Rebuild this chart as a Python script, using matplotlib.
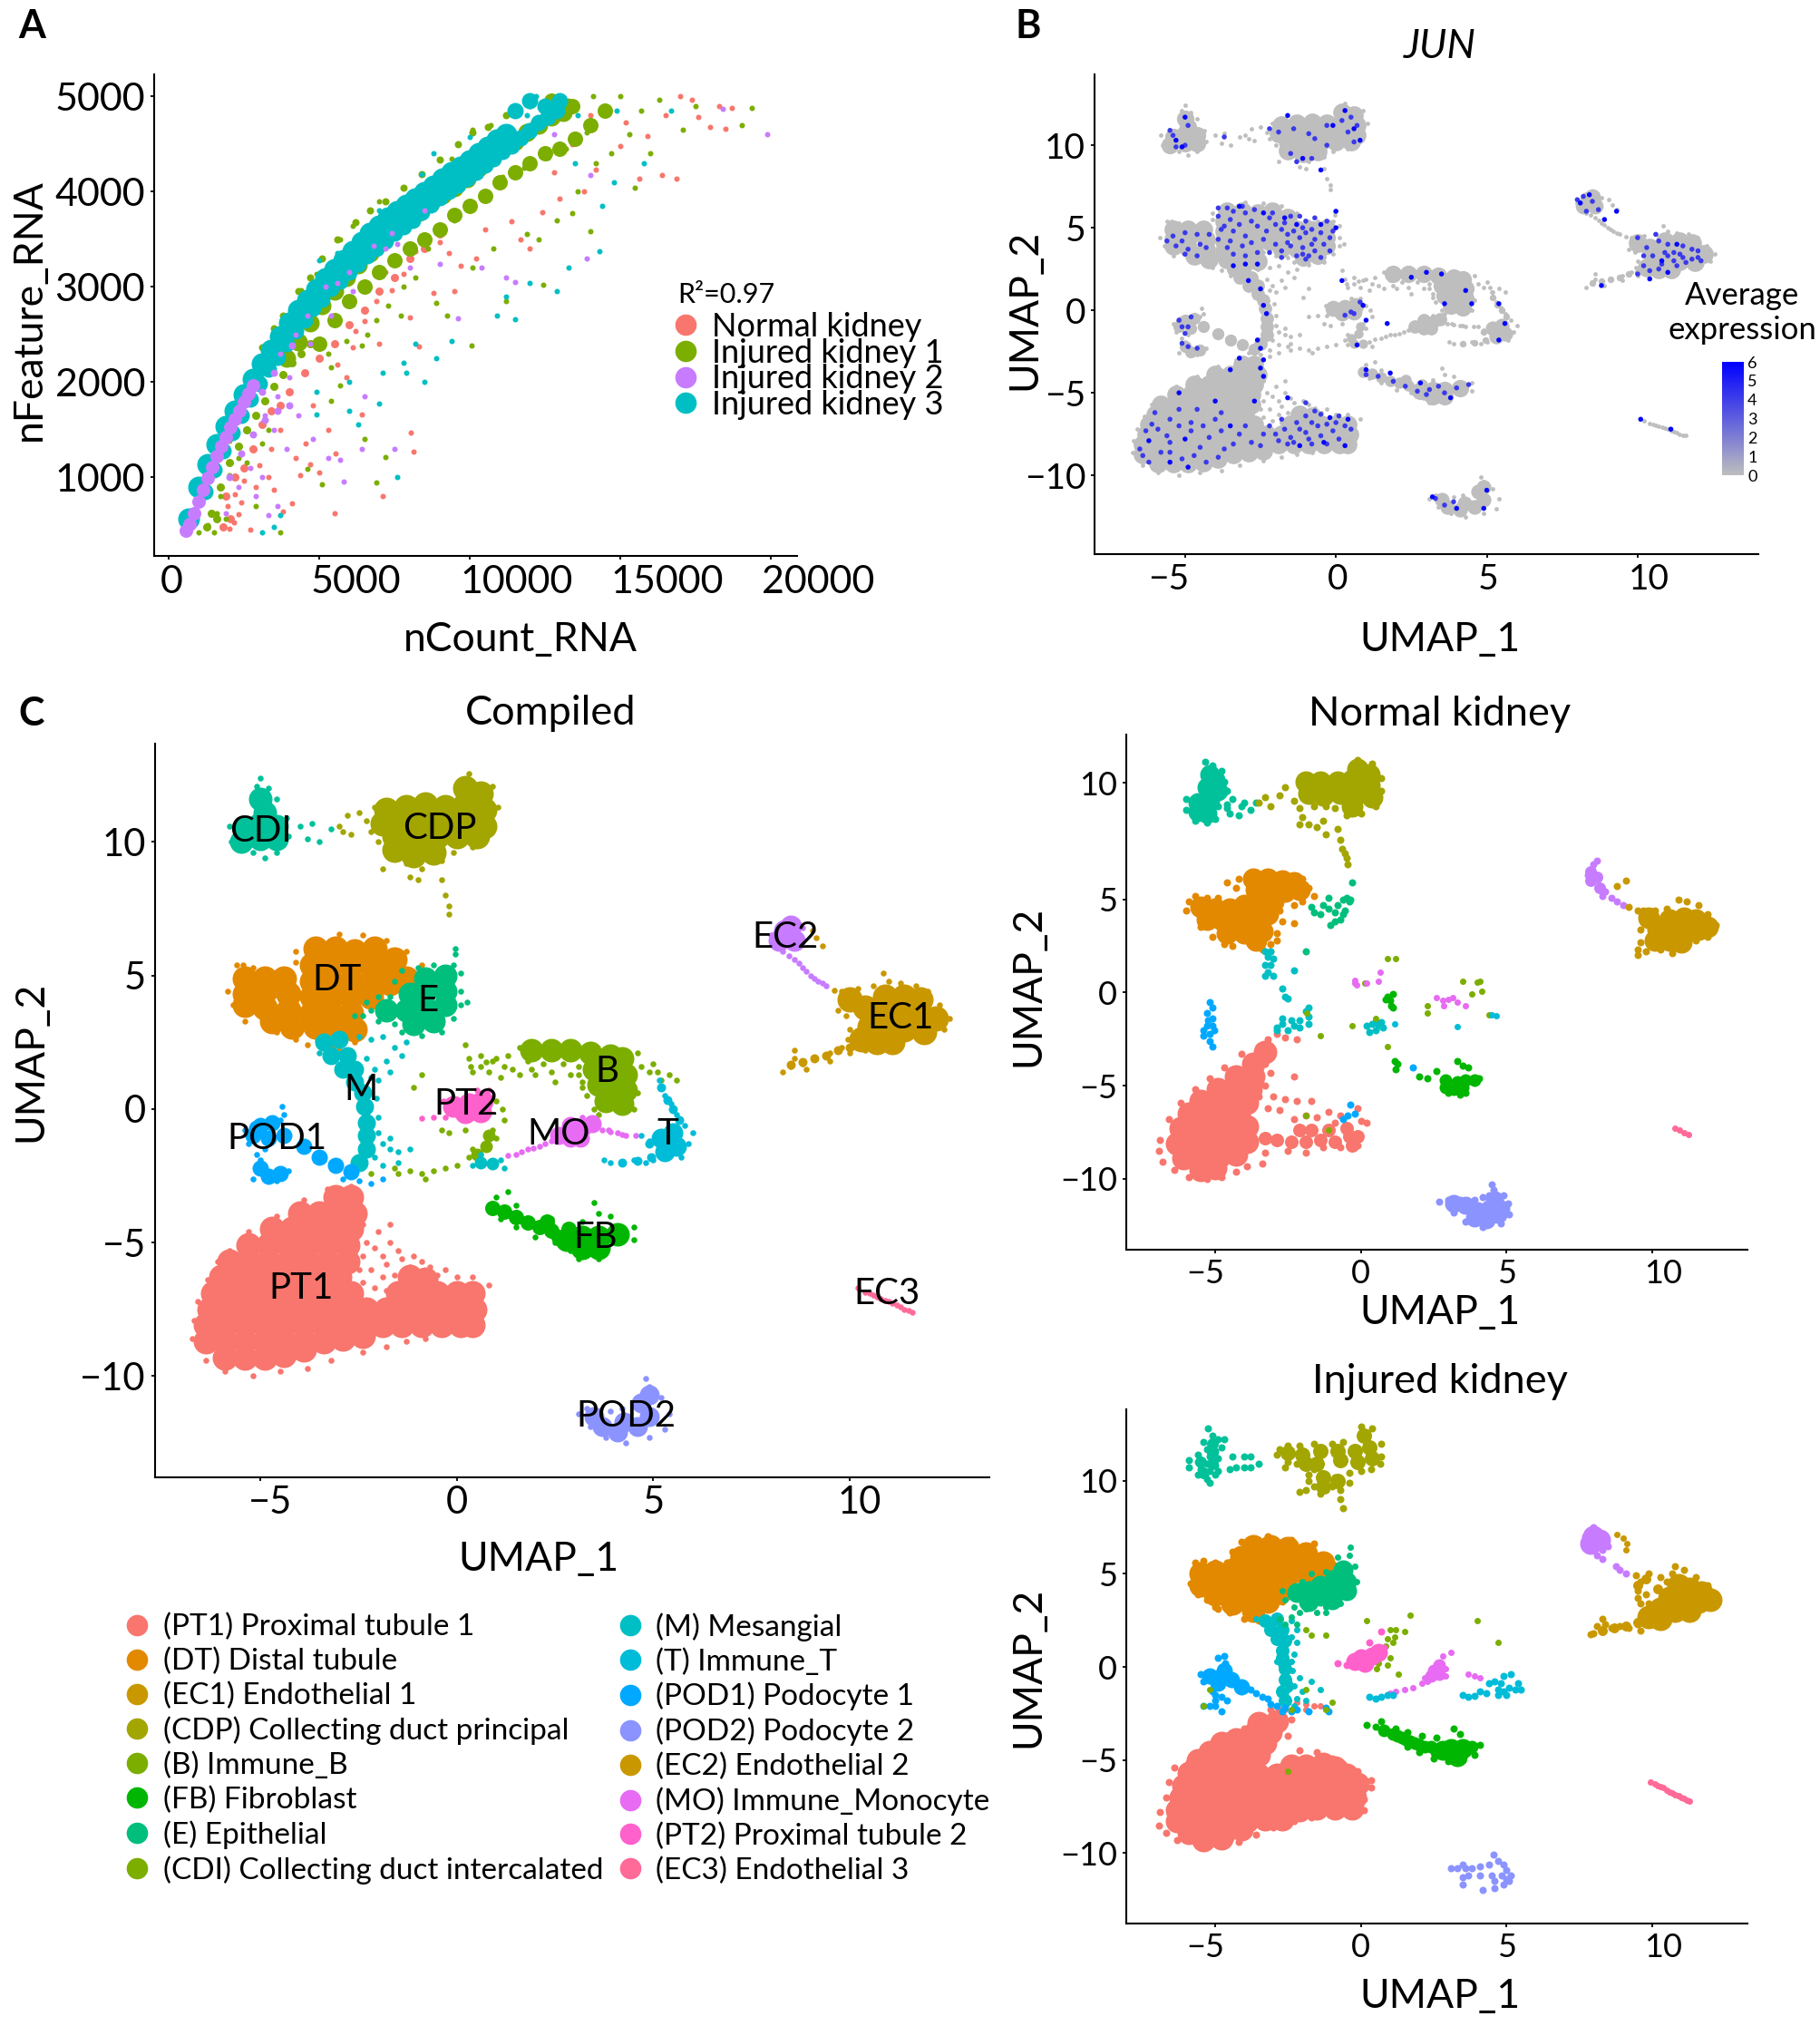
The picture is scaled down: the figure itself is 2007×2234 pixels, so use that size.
import matplotlib
matplotlib.use('Agg')
import matplotlib.pyplot as plt
from matplotlib.colors import LinearSegmentedColormap
from matplotlib.lines import Line2D
from matplotlib.transforms import Affine2D, ScaledTranslation
import numpy as np

plt.rcParams['font.family'] = ['Lato', 'DejaVu Sans']
plt.rcParams['axes.unicode_minus'] = True

W, H = 2007, 2234

# Panel A: nCount_RNA / nFeature_RNA
A_TEAL_CORE = [(650,560),(1000,900),(1300,1130),(1600,1340),(1900,1530),(2200,1700),(2500,1870),(2800,2030),(3100,2190),(3400,2330),(3700,2480),(4000,2620),(4300,2750),(4600,2860),(4900,2970),(5200,3090),(5500,3180),(5800,3280),(6100,3370),(6400,3470),(6700,3560),(7000,3640),(7300,3720),(7600,3790),(7900,3860),(8200,3920),(8500,3990),(8800,4060),(9100,4130),(9400,4200),(9700,4260),(10000,4320),(10300,4400),(10600,4470),(10900,4540),(11200,4600)]
A_TEAL_LOW = [(1200,850),(1500,1080),(1800,1280),(2100,1470),(2400,1650),(2700,1820),(3000,1980),(3300,2130),(3600,2260),(3900,2400),(4200,2530),(4500,2650),(4800,2770),(5100,2870),(5400,2980),(5700,3060),(6000,3150),(6300,3240),(6600,3320),(6900,3400),(7200,3480),(7500,3560),(7800,3630),(8100,3700),(8400,3780),(8700,3860),(9000,3930),(9300,4000),(9600,4070),(9900,4130),(10200,4200),(10500,4280),(10800,4340),(11100,4420),(11400,4480),(11700,4560),(12000,4640),(12300,4720),(12600,4780),(12900,4850),(11500,4850),(12000,4950),(12500,4900),(13000,4950)]
A_GREEN_CORE = [(3900,2250),(4300,2420),(4700,2620),(5100,2800),(5500,2950),(5900,3100),(6300,3230),(6700,3350),(7100,3480),(7500,3600),(7900,3700),(8300,3780),(8700,3880),(9100,3960),(9500,4040),(9900,4130),(10300,4250),(10700,4350),(11100,4450),(11500,4520),(11900,4620),(12300,4700),(12700,4780),(13100,4830)]
A_GREEN_LOW = [(5000,2400),(5500,2650),(6000,2850),(6500,3000),(7000,3150),(7500,3280),(8000,3400),(8500,3500),(9000,3600),(9500,3750),(10000,3850),(10500,3950),(11000,4100),(11500,4200),(12000,4300),(12500,4400),(13000,4450),(13500,4550),(14000,4700),(14500,4850),(13400,4900),(12700,4950)]
A_GREEN_EDGE = [(2100,1720),(2600,2050),(3100,2360),(3500,2560),(3800,2700),(4300,2950),(4700,3100),(5100,3300),(5600,3500),(6200,3680),(6700,3800),(7200,3900),(7800,4040),(8400,4180),(9000,4330),(9600,4500),(10100,4620),(10600,4680),(11200,4800)]
A_MIX_GREEN = [(1400,620),(1700,900),(2000,1150),(2300,1320),(2600,1500),(2900,1650),(3200,1800),(3500,1950),(3800,2080),(4100,2200),(4400,2300),(4700,2400),(1250,480),(1600,560)]
A_MIX_RED = [(1900,800),(2200,1000),(2500,1100),(2800,1300),(3100,1550),(3400,1700),(3700,1750),(4000,1900),(4500,2100),(5000,2250),(5500,2400),(6000,2600),(6500,2750),(7000,2950),(7500,3100),(8000,3300),(8500,3400),(9000,3550),(2050,560),(1800,480)]
A_MIX_PURPLE = [(2000,1000),(2400,1250),(2800,1450),(3200,1600),(3600,1700),(4000,1750),(3100,1900),(3500,2100),(4100,2380)]
A_PURPLE_CORE = [(560,440),(700,510),(850,620),(1000,740),(1150,870),(1300,990),(1450,1110),(1600,1220),(1750,1320),(1900,1420),(2050,1520),(2200,1610),(2350,1700),(2500,1790),(2650,1880),(2800,1960)]
A_RED = [(2000,460),(2150,520),(2300,610),(1950,700),(2200,820),(2400,730),(2700,450),(2500,960),(2900,900),(3000,1120),(3300,1000),(3500,870),(3800,640),(4100,720),(4350,1020),(4550,1350),(4700,1130),(5000,1050),(5500,620),(5300,1500),(5550,1250),(6400,1660),(8040,1466),(8135,1266),(7115,800),(5900,2050),(6100,2360),(6500,2640),(6900,2850),(7400,2960),(7800,3130),(8000,2680),(8300,2370),(8800,2930),(9300,3350),(9000,3470),(9700,3220),(10500,3600),(11400,3690),(12000,3400),(12400,3780),(13000,3920),(13800,4000),(14200,4230),(15000,4480),(15200,4720),(15900,4580),(16400,4170),(15640,4130),(16890,4130),(16500,4800),(17000,5000),(17400,4960),(17600,4780),(18000,4680),(18300,4900),(18700,4880),(18500,4660),(14000,4800),(13400,4500),(12800,4200),(11700,3500),(10200,3300),(9500,2950),(7000,2400),(4200,1200),(3400,1300),(3700,1500),(4800,1750),(5600,2180),(6200,2530),(7200,3150),(8200,3370)]
A_GREEN = [(1000,420),(1300,500),(1500,420),(1600,620),(1700,800),(1900,560),(2000,1020),(2300,1200),(2600,1150),(2900,700),(3100,1350),(3300,1500),(3700,420),(4600,1090),(5100,920),(6900,940),(7200,1210),(6500,1400),(5400,1800),(5700,1960),(5400,2150),(5900,2430),(6400,2380),(6900,2650),(7700,2700),(7800,3000),(8200,3100),(8900,2830),(10050,2380),(9250,2700),(10100,3200),(11200,2850),(12450,3020),(10800,3400),(11900,3550),(12300,3500),(12900,3700),(13400,3770),(14000,3580),(13600,4000),(14200,4300),(15500,4040),(14700,4400),(15300,4600),(16000,4400),(15700,4850),(16300,4960),(17100,4650),(17500,4900),(19060,4700),(19380,4880),(12000,4900),(10700,4700),(10100,4650),(9400,4340),(8600,4060),(7200,3680),(7000,3900),(6100,3640),(5700,3500),(4900,3130),(4400,2960),(3900,2580),(3500,2400),(3000,2000),(2400,1650),(2000,1380),(5000,2450),(5300,2300),(6000,2800),(6600,2500),(7300,2800),(8600,3400),(9500,3700),(10400,3950),(11100,4150),(11800,4250),(12600,4350),(13200,4450),(13900,4620),(14400,4850),(15000,5000),(14100,5000),(13300,4950)]
A_PURPLE = [(1900,620),(2300,900),(2700,1100),(2900,800),(3100,1000),(3300,600),(3600,700),(3500,1500),(3900,1300),(4300,1650),(4800,1400),(5300,1200),(5800,950),(5700,1180),(6400,1300),(6500,1850),(7500,1300),(9600,2670),(11500,3050),(11200,3100),(10400,3200),(9000,3240),(8000,3200),(7200,3400),(6100,2950),(5400,2700),(4700,2400),(4000,2050),(3600,1850),(3200,1650),(13900,3300),(14000,4170),(12800,4600),(18400,4870),(19900,4600),(8500,3800),(7600,3450),(4600,2700),(5200,3000),(5600,3040),(6000,3150),(6800,3430),(7400,3560),(3700,2300),(4200,2500)]
A_TEAL = [(3100,420),(3500,480),(3700,600),(6000,2000),(6000,1700),(4900,1900),(4900,1660),(6300,1550),(7000,1770),(7600,1000),(7100,2100),(7800,2200),(8200,2400),(7900,2100),(8500,2000),(9400,2430),(8900,2250),(10900,2700),(11200,2900),(11500,2660),(12000,3040),(12900,2950),(13300,3200),(14300,3370),(14400,3850),(15800,4300),(16700,4850),(14900,4850),(13600,4800),(12200,5000),(11900,4800),(11200,4620),(10000,4570),(8800,4400),(8400,4180),(7000,3800),(6000,3350),(5600,3350),(5000,3280),(13500,4300),(14800,4100)]

# Compiled UMAP, clusters as dense (_L, _M) and single cell (_S) readings
C_PT1_L = [(-3.1,-3.3),(-2.7,-3.3),(-4.0,-3.9),(-3.5,-3.9),(-3.0,-3.9),(-2.6,-3.9),(-4.7,-4.5),(-4.2,-4.5),(-3.7,-4.5),(-3.2,-4.5),(-2.7,-4.5),(-5.3,-5.1),(-4.8,-5.1),(-4.3,-5.1),(-3.8,-5.1),(-3.3,-5.1),(-2.8,-5.1),(-5.8,-5.7),(-5.3,-5.7),(-4.8,-5.7),(-4.3,-5.7),(-3.8,-5.7),(-3.3,-5.7),(-2.8,-5.7),(-6.0,-6.3),(-5.5,-6.3),(-5.0,-6.3),(-4.5,-6.3),(-4.0,-6.3),(-3.5,-6.3),(-3.0,-6.3),(-1.2,-6.3),(-0.8,-6.4),(-6.2,-6.9),(-5.7,-6.9),(-5.2,-6.9),(-4.7,-6.9),(-4.2,-6.9),(-3.7,-6.9),(-3.2,-6.9),(-2.7,-6.9),(-1.5,-6.9),(-1.0,-6.9),(-0.5,-6.9),(0.0,-6.9),(0.4,-6.9),(-6.3,-7.5),(-5.8,-7.5),(-5.3,-7.5),(-4.8,-7.5),(-4.3,-7.5),(-3.8,-7.5),(-3.3,-7.5),(-2.8,-7.5),(-2.3,-7.5),(-1.8,-7.5),(-1.3,-7.5),(-0.8,-7.5),(-0.3,-7.5),(0.2,-7.5),(0.45,-7.5),(-6.4,-8.1),(-5.9,-8.1),(-5.4,-8.1),(-4.9,-8.1),(-4.4,-8.1),(-3.9,-8.1),(-3.4,-8.1),(-2.9,-8.1),(-2.4,-8.1),(-1.9,-8.1),(-1.4,-8.1),(-0.9,-8.1),(-0.4,-8.1),(0.1,-8.1),(0.4,-8.1),(-6.4,-8.7),(-5.9,-8.7),(-5.4,-8.7),(-4.9,-8.7),(-4.4,-8.7),(-3.9,-8.7),(-3.4,-8.7),(-2.9,-8.6),(-2.4,-8.5),(-5.9,-9.3),(-5.4,-9.3),(-4.9,-9.3),(-4.4,-9.2),(-3.9,-9.0)]
C_PT1_S = [(-6.75,-8.6),(-6.7,-7.9),(-6.6,-7.2),(-6.35,-6.4),(-6.1,-5.7),(-5.8,-5.3),(-5.3,-4.6),(-4.6,-4.0),(-3.9,-3.4),(-3.3,-3.0),(-2.7,-2.9),(-2.5,-3.4),(-2.4,-4.3),(-2.3,-5.0),(-2.0,-4.6),(-1.9,-5.5),(-2.2,-6.0),(-1.9,-6.3),(-1.6,-6.2),(-1.4,-5.6),(-1.1,-5.5),(-0.7,-5.9),(0.0,-6.3),(0.4,-6.3),(0.8,-6.6),(0.5,-8.3),(-0.8,-8.6),(-1.3,-8.7),(-1.8,-8.9),(-2.4,-9.1),(-3.2,-9.4),(-3.8,-9.7),(-4.5,-9.8),(-5.2,-10.0),(-5.9,-9.8),(-6.4,-9.4),(-1.7,-4.3),(-2.4,-5.5),(-2.1,-5.2),(-1.7,-5.0),(-2.4,-6.5),(-2.1,-6.7),(-1.8,-5.8),(-1.5,-5.3),(-1.2,-5.9),(-0.9,-5.7),(-0.5,-6.2),(-0.3,-6.0),(0.3,-6.6),(-2.5,-6.0),(-1.8,-6.8)]
C_DT_L = [(-3.6,6.0),(-3.1,6.0),(-2.6,5.9),(-2.1,6.0),(-1.6,5.6),(-3.7,5.4),(-3.2,5.4),(-2.7,5.4),(-2.2,5.4),(-1.7,5.2),(-1.3,4.9),(-5.4,4.9),(-4.9,4.4),(-5.4,4.3),(-5.4,3.9),(-4.9,3.8),(-4.4,4.9),(-4.3,4.3),(-4.3,3.7),(-3.7,4.8),(-3.2,4.8),(-2.7,4.8),(-2.2,4.8),(-1.7,4.7),(-3.7,4.2),(-3.2,4.2),(-2.7,4.2),(-2.2,4.2),(-4.7,3.3),(-4.2,3.1),(-3.7,3.6),(-3.2,3.6),(-2.7,3.6),(-3.6,3.1),(-3.1,3.1),(-2.6,3.0),(-3.3,2.6),(-4.9,4.9)]
C_DT_S = [(-5.85,4.4),(-5.6,5.4),(-5.45,5.4),(-5.2,5.3),(-4.85,5.0),(-4.1,5.9),(-4.1,5.5),(-3.0,6.55),(-2.4,6.5),(-1.8,6.3),(-1.3,5.9),(-0.9,5.4),(-5.7,3.9),(-5.4,3.3),(-4.6,2.9),(-4.1,2.6),(-3.8,2.4),(-3.0,2.2),(-2.6,2.5)]
C_E_L = [(-0.3,5.0),(-0.8,4.9),(-0.3,4.4),(-0.8,4.4),(-1.2,4.3),(-0.3,3.9),(-0.8,3.8),(-1.3,3.7),(-1.8,3.7),(-0.6,3.3),(-1.1,3.2)]
C_E_S = [(-0.1,5.4),(-0.6,5.4),(-1.0,5.3),(-1.4,5.2),(-1.6,4.8),(0.1,5.1),(0.1,4.4),(0.1,3.9),(-0.1,3.4),(-0.4,2.9),(-0.9,2.75),(-1.4,2.9),(-1.6,3.2),(-2.2,3.7),(-2.4,3.5),(-2.6,3.5),(-2.0,3.3),(-1.7,4.2),(0.25,4.0),(-0.05,6.0),(-0.05,5.8),(-2.3,4.0),(-2.0,4.2)]
C_M_M = [(-3.4,2.5),(-3.0,2.6),(-3.2,2.0),(-2.8,2.0),(-2.9,1.5),(-2.6,1.5),(-2.6,1.0),(-2.4,0.6),(-2.35,0.1),(-2.3,-0.5),(-2.3,-1.0),(-2.3,-1.5),(-2.5,-2.0)]
C_M_S = [(-1.3,2.5),(-1.6,2.3),(-1.8,1.8),(-2.1,1.5),(-2.0,1.1),(-2.5,2.7),(-2.2,2.6),(-1.9,2.7),(-3.5,2.1),(-2.0,-0.3),(-2.0,-0.9),(-1.9,-1.3),(-1.7,-1.5),(-1.5,-1.6),(-1.2,-1.5),(-1.5,-2.0),(-1.9,-2.1),(-2.1,-1.8),(-1.7,-1.1),(-2.05,0.4),(-1.4,2.0),(-1.7,1.4),(-2.3,1.9),(-2.2,1.2)]
C_POD1_M = [(-5.0,-0.6),(-4.7,-0.5),(-5.2,-1.0),(-4.8,-1.1),(-4.4,-1.0),(-5.0,-2.2),(-4.8,-2.5),(-4.5,-2.4),(-5.1,-0.7),(-3.9,-1.4),(-3.5,-1.8),(-3.1,-2.1),(-2.7,-2.35)]
C_POD1_S = [(-4.45,0.1),(-4.4,-0.2),(-4.5,-0.4),(-5.4,-0.8),(-5.3,-1.3),(-5.1,-1.7),(-5.0,-1.9),(-4.9,-1.5),(-5.2,-2.6),(-4.6,-2.7),(-4.3,-2.3),(-4.0,-1.3),(-3.8,-1.5),(-3.6,-1.7),(-3.4,-1.9),(-3.2,-2.0),(-3.0,-2.1),(-2.8,-2.2),(-2.6,-2.3),(-2.9,-2.6),(-2.5,-2.7),(-2.2,-2.8),(-1.9,-2.6),(-2.7,-2.4)]
C_B_L = [(1.9,2.2),(2.4,2.2),(2.9,2.2),(3.4,2.1),(3.9,2.0),(4.2,1.9),(3.5,1.5),(3.9,1.4),(4.3,1.3),(3.6,0.9),(4.0,0.9),(4.3,0.7),(3.8,0.3),(4.2,0.2)]
C_B_S = [(1.6,2.3),(1.8,1.8),(2.2,1.7),(2.7,1.7),(3.1,1.6),(1.3,2.0),(1.2,1.6),(0.9,1.8),(0.6,2.0),(0.3,1.9),(0.4,1.4),(0.2,2.4),(0.8,1.4),(1.1,1.2),(1.6,1.3),(2.0,1.3),(2.5,1.0),(3.2,1.0),(3.3,0.5),(3.5,0.0),(3.6,-0.2),(4.6,2.1),(4.7,1.6),(4.9,1.4),(4.6,0.6),(4.5,0.0),(5.0,1.7),(5.2,1.1),(5.4,1.3),(5.6,1.1),(-0.9,1.3),(-1.1,0.8),(1.0,0.3),(1.15,0.0),(-0.4,-0.8),(-0.2,-0.9),(0.2,-0.8),(0.6,1.6),(1.0,1.9),(1.4,1.5),(1.9,1.5),(2.4,1.4),(2.9,1.3),(3.1,1.3),(3.2,0.8),(5.1,1.4),(0.35,1.6),(0.75,1.75)]
C_OLIVE_M = [(0.8,-1.0),(0.75,-1.4),(0.5,-1.7)]
C_OLIVE_S = [(0.9,-0.8),(1.0,-1.1),(0.4,-1.5),(0.3,-1.8),(0.0,-2.1),(-0.3,-2.2),(-0.6,-2.3),(-0.9,-2.4),(-1.2,-2.3),(-1.5,-2.4),(-0.8,-2.6),(-1.6,-2.2),(-2.2,-2.4),(1.2,-0.4)]
C_PT2_L = [(-0.1,0.1),(0.3,0.2),(0.65,0.3),(0.2,-0.15),(0.6,-0.1)]
C_PT2_S = [(-0.3,-0.3),(-0.6,-0.3),(-0.9,-0.35),(-0.35,0.3),(0.8,0.7),(0.5,0.7)]
C_FB_L = [(3.2,-4.8),(3.6,-4.8),(4.1,-4.7),(3.2,-5.2),(3.6,-5.2),(2.8,-4.9)]
C_FB_M = [(0.9,-3.7),(1.2,-3.85),(1.5,-4.05),(1.8,-4.25),(2.1,-4.4),(2.4,-4.55),(2.6,-4.8),(2.85,-4.5),(2.3,-4.2)]
C_FB_S = [(0.85,-3.6),(1.1,-4.1),(1.5,-4.4),(2.0,-4.8),(2.5,-5.0),(2.9,-5.3),(3.1,-5.6),(3.6,-5.6),(3.5,-3.5),(3.6,-3.9),(3.9,-4.0),(4.5,-4.4),(4.5,-4.9),(3.2,-4.2),(2.4,-4.1),(1.5,-3.6),(1.0,-3.3),(1.3,-3.1)]
C_MO_M = [(2.9,-0.6),(3.2,-0.7),(2.9,-1.1),(3.15,-1.1),(2.6,-1.0),(3.45,-0.55)]
C_MO_S = [(2.5,-0.9),(2.4,-1.2),(2.1,-1.4),(1.8,-1.5),(1.5,-1.7),(1.3,-1.75),(3.2,-0.3),(3.45,-0.5),(3.7,-0.8),(3.9,-0.85),(4.1,-0.9),(4.3,-1.0),(4.55,-1.0),(2.25,-1.3),(1.95,-1.45),(1.65,-1.6),(3.85,-0.8),(4.2,-0.95)]
C_T_L = [(5.5,-0.9),(5.2,-1.1),(5.6,-1.4),(5.3,-1.6)]
C_T_M = [(5.2,0.8),(5.35,0.35),(5.5,0.0),(5.65,-0.4),(4.9,-1.3),(4.6,-1.95),(4.2,-2.0),(4.95,-1.8)]
C_T_S = [(5.15,1.1),(5.2,0.8),(5.3,0.5),(5.45,0.2),(5.6,-0.2),(5.8,-0.6),(6.0,-0.9),(5.9,-1.3),(5.7,-1.8),(4.9,-1.2),(4.7,-1.0),(5.0,-1.9),(4.8,-2.0),(4.5,-1.9),(4.2,-2.0),(3.9,-2.0),(3.75,-1.9)]
C_TM_M = [(0.6,-2.0),(0.9,-2.05)]
C_TM_S = [(0.4,-2.1),(1.1,-1.9),(1.2,-2.2),(0.6,-1.7)]
C_POD2_L = [(4.7,-11.0),(4.9,-11.5),(4.6,-11.9),(4.1,-12.1),(3.7,-11.9),(4.9,-10.7),(4.25,-11.7),(3.5,-11.5)]
C_POD2_S = [(4.8,-10.1),(4.9,-10.4),(5.2,-10.8),(5.4,-11.4),(5.3,-12.0),(4.9,-12.3),(4.3,-12.5),(3.8,-12.3),(3.4,-11.9),(3.1,-11.4),(3.3,-11.2),(3.6,-11.3),(3.9,-11.3),(4.2,-11.2)]
C_EC2_L = [(8.35,6.7),(8.2,6.3),(8.6,6.3),(8.5,6.85)]
C_EC2_S = [(8.0,6.5),(8.3,5.9),(8.6,5.6),(8.8,5.3),(9.0,5.0),(9.2,4.8),(9.4,4.6),(8.8,6.8),(8.45,5.75),(8.7,5.45),(8.9,5.15),(9.1,4.9),(9.3,4.7)]
C_EC2B_S = [(9.05,6.7),(9.15,6.4),(9.3,6.1),(9.6,4.45)]
C_EC1_L = [(10.9,4.2),(11.4,4.2),(11.8,4.1),(10.4,3.8),(10.8,3.6),(11.3,3.5),(11.8,3.5),(12.2,3.4),(10.5,3.1),(10.9,3.0),(11.4,3.0),(11.9,2.9),(10.0,4.1),(10.3,2.6),(10.7,2.5),(11.1,2.5)]
C_EC1_M = [(8.5,1.65),(8.8,1.75),(9.1,1.9),(9.4,2.0),(9.7,2.2),(10.0,2.3)]
C_EC1_S = [(9.8,4.4),(10.2,4.5),(10.6,4.6),(10.85,5.1),(11.0,4.8),(11.3,4.7),(11.7,4.6),(12.0,4.4),(12.3,3.9),(12.55,3.4),(12.4,3.0),(9.7,3.7),(9.9,3.5),(10.0,3.0),(9.95,2.6),(9.8,2.3),(9.5,2.1),(9.1,1.9),(8.8,1.7),(8.5,1.6),(8.3,1.4),(8.6,1.9),(8.6,2.2),(9.5,1.8),(10.0,2.1),(10.4,2.2),(8.9,1.5)]
C_EC3_S = [(10.2,-6.7),(10.4,-6.85),(10.6,-6.95),(10.8,-7.1),(11.0,-7.2),(11.2,-7.35),(11.4,-7.5),(11.6,-7.6),(10.5,-6.9),(10.9,-7.15),(11.3,-7.42),(10.7,-7.03),(11.1,-7.28),(11.5,-7.55)]
C_CDI_L = [(-5.0,11.6),(-4.9,11.1),(-5.0,10.7),(-5.4,10.5),(-4.6,10.6),(-5.5,10.0),(-5.0,10.1),(-4.6,10.1)]
C_CDI_S = [(-5.0,12.4),(-5.1,12.1),(-4.8,12.0),(-4.6,11.6),(-4.35,10.9),(-5.8,10.6),(-5.75,10.0),(-4.3,10.2),(-4.0,10.6),(-3.7,10.7),(-3.5,10.0),(-3.8,10.1),(-3.2,10.5),(-4.9,9.4),(-5.2,9.6),(-4.6,9.6)]
C_CDP_L = [(0.2,12.0),(0.6,11.8),(0.2,11.4),(0.7,11.2),(-0.3,11.3),(-0.8,11.4),(-1.3,11.3),(-1.8,11.2),(0.2,10.8),(0.7,10.6),(-0.3,10.8),(-0.8,10.7),(-1.3,10.7),(-1.9,10.7),(0.5,10.2),(0.0,10.2),(-0.5,10.2),(-1.1,10.1),(-1.6,10.2),(-0.6,9.6),(-1.1,9.5),(-1.6,9.7)]
C_CDP_S = [(-2.8,11.0),(-2.5,11.1),(-2.3,10.8),(-2.1,11.3),(-2.2,10.4),(-2.0,10.0),(-1.7,9.4),(-1.9,9.0),(-1.3,9.2),(-1.2,8.7),(-1.0,8.6),(-0.9,9.0),(-0.4,9.3),(-0.1,9.6),(0.4,9.8),(-0.4,8.6),(-0.3,8.0),(-0.2,7.6),(-0.2,7.3),(1.05,11.3),(0.9,12.1),(0.3,12.55),(-2.9,10.4),(-2.7,10.3),(-3.0,10.6)]

# Cells with JUN signal in panel B
JUN_HIGH = [(-5.0,11.7),(-5.3,10.3),(-5.1,9.9),(-1.6,11.8),(-0.1,11.2),(0.3,12.1),(0.6,11.0),(0.8,10.3),(-1.1,9.2),(-0.5,8.5),(0.0,6.0),(-3.2,6.3),(-2.4,5.9),(-1.7,5.6),(-1.3,5.2),(-0.5,5.2),(0.0,5.0),(-3.4,2.7),(-3.0,2.8),(-2.6,2.8),(-2.9,1.8),(-2.5,1.3),(-2.4,0.3),(-2.3,-0.2),(-2.6,-1.8),(-2.5,-2.3),(-2.4,-3.0),(-2.5,-3.5),(-2.4,-4.0),(-3.5,-3.6),(-3.2,-2.9),(-5.2,-5.0),(-4.0,-5.5),(-2.7,-5.5),(-1.6,-5.3),(-0.2,-6.5),(0.4,-6.6),(0.3,-8.2),(-0.4,-8.0),(-5.5,-9.2),(-4.9,-9.5),(-6.2,-7.9),(-5.0,-7.8),(-3.5,-7.0),(-1.2,-8.2),(0.2,1.8),(0.9,0.3),(1.0,-0.6),(0.7,-2.1),(2.5,2.0),(3.0,2.3),(3.5,2.2),(4.3,1.2),(3.6,0.4),(4.5,0.4),(5.4,0.4),(5.6,-0.8),(5.4,-1.8),(1.7,-0.8),(1.0,-3.6),(1.8,-3.8),(2.8,-4.4),(3.8,-5.3),(8.4,7.0),(8.1,6.5),(8.9,5.5),(9.3,6.0),(8.8,1.5),(10.4,1.9),(10.8,3.0),(11.0,2.3),(11.3,4.0),(10.1,-6.6),(11.1,-7.2),(3.2,-11.3),(4.0,-12.0),(5.0,-10.9),(4.9,-12.0)]
JUN_MID = [(-5.5,10.9),(-5.4,10.6),(-5.0,10.0),(-5.3,9.9),(-4.9,11.2),(-3.7,10.5),(-2.2,11.0),(-1.4,11.0),(-1.9,10.8),(-0.9,10.7),(-0.7,10.4),(-0.3,11.2),(0.2,11.5),(0.5,11.7),(0.7,11.2),(0.4,10.8),(0.6,10.2),(-0.3,10.0),(-1.5,9.5),(-1.3,9.0),(-0.8,9.2),(-3.9,6.2),(-3.4,6.0),(-3.9,5.7),(-3.5,5.5),(-3.0,5.9),(-2.8,5.4),(-2.2,5.6),(-2.0,5.2),(-1.5,5.7),(-1.0,5.4),(-0.8,4.9),(-0.5,4.7),(-0.1,4.8),(-1.8,4.9),(-1.4,4.8),(-1.2,4.4),(-0.7,4.3),(-0.4,4.0),(-1.1,3.8),(-0.7,3.6),(-1.3,3.3),(-1.0,3.1),(-0.5,3.2),(-5.4,4.5),(-5.0,4.7),(-4.6,4.6),(-5.3,3.9),(-4.9,3.7),(-4.5,4.0),(-4.2,4.6),(-3.8,4.9),(-3.4,4.8),(-3.0,4.5),(-3.5,4.2),(-3.1,3.9),(-2.8,4.1),(-2.4,4.3),(-2.0,4.0),(-2.2,3.5),(-1.8,3.6),(-3.4,3.4),(-1.6,4.1),(-5.2,-0.6),(-5.1,-1.0),(-4.9,-1.0),(-5.0,-1.4),(-4.8,-0.4),(-5.1,-2.0),(-4.9,-2.2),(-4.6,-2.3),(-0.5,-6.3),(0.0,-6.8),(0.3,-7.0),(-0.6,-7.0),(-1.0,-6.4),(-1.3,-6.8),(-1.7,-7.2),(-1.5,-7.7),(-1.0,-7.4),(-0.5,-7.6),(-0.1,-7.3),(-1.9,-7.9),(-1.4,-8.0),(-0.8,-8.1),(-2.4,-7.5),(-2.8,-8.0),(-3.2,-7.5),(-3.8,-7.3),(-4.4,-7.0),(-4.8,-6.8),(-5.5,-6.6),(-5.9,-7.2),(-6.0,-6.2),(-5.5,-8.0),(-4.5,-8.3),(-3.7,-8.4),(-6.4,-8.8),(-6.2,-9.2),(-5.8,-8.6),(-4.3,-9.2),(0.3,-0.3),(0.6,-0.2),(0.8,0.5),(0.5,-0.1),(1.0,-3.9),(1.4,-4.0),(1.9,-4.3),(2.3,-4.6),(2.7,-4.9),(3.1,-4.8),(3.4,-4.6),(3.6,-5.0),(4.0,-4.7),(4.4,-4.5),(3.0,-5.1),(8.0,6.7),(8.2,6.9),(8.5,6.6),(8.7,6.1),(8.3,6.0),(10.0,4.4),(10.3,3.8),(10.7,4.2),(11.0,4.0),(10.5,3.3),(10.9,3.5),(11.2,3.5),(11.5,3.2),(11.8,3.7),(11.5,3.9),(12.0,3.2),(10.2,2.7),(10.7,2.5),(11.2,3.0),(11.6,2.9),(12.1,3.0),(10.0,2.2),(3.3,-11.4),(3.6,-11.8),(3.9,-11.6)]
JUN_MID2 = [(-3.6,6.2),(-3.1,6.3),(-2.7,6.1),(-2.1,5.9),(-1.2,5.7),(-0.7,5.6),(-1.7,5.3),(-1.1,5.0),(-0.3,5.4),(-3.7,5.1),(-3.2,5.2),(-2.6,5.1),(-2.3,4.8),(-1.6,4.6),(-1.0,4.7),(-0.2,4.4),(-1.5,3.9),(-1.8,3.2),(-1.1,3.4),(-0.2,3.6),(-0.8,4.0),(-0.9,3.3),(-5.6,4.2),(-5.1,4.2),(-5.0,3.4),(-4.6,3.3),(-4.3,3.8),(-3.9,4.3),(-3.6,3.8),(-2.6,3.5),(-3.0,3.3),(-1.0,-5.6),(-0.7,-6.1),(-0.3,-6.9),(0.1,-6.4),(0.5,-7.2),(-0.8,-6.8),(-1.2,-7.2),(-1.8,-6.6),(-2.2,-7.0),(-2.0,-7.5),(-1.6,-8.1),(-0.9,-7.8),(-0.3,-8.1),(0.1,-7.8),(-2.5,-8.2),(-3.0,-7.0),(-3.4,-8.1),(-4.0,-6.6),(-4.2,-7.7),(-4.8,-7.3),(-5.2,-7.0),(-5.6,-7.6),(-6.1,-6.9),(-6.3,-7.3),(-6.5,-8.4),(-5.5,-8.6),(-5.1,-9.0),(-4.7,-8.8),(-3.9,-8.9),(-5.2,-6.0),(-4.6,-6.0),(-3.8,-6.2),(10.6,4.6),(11.0,3.3),(11.4,3.4),(11.8,3.1),(10.8,2.8),(10.4,2.4),(11.3,2.7),(10.2,3.3),(12.0,3.6)]

# Normal kidney UMAP
N_PT1_L = [(-3.3,-3.2),(-3.7,-3.8),(-4.3,-4.5),(-3.7,-4.5),(-4.9,-5.2),(-4.3,-5.2),(-3.8,-5.2),(-5.5,-5.8),(-5.0,-5.8),(-4.4,-5.8),(-3.9,-5.9),(-5.9,-6.5),(-5.4,-6.5),(-4.8,-6.5),(-4.2,-6.5),(-6.2,-7.3),(-5.6,-7.3),(-5.0,-7.3),(-4.4,-7.3),(-3.9,-7.2),(-6.3,-8.1),(-5.7,-8.1),(-5.1,-8.1),(-4.5,-8.1),(-3.9,-8.0),(-6.1,-8.9),(-5.5,-8.9),(-4.9,-8.9),(-4.3,-8.7),(-5.5,-9.5),(-5.0,-9.4)]
N_PT1_M = [(-3.3,-7.8),(-2.9,-7.9),(-2.4,-8.0),(-1.9,-8.0),(-1.4,-7.9),(-0.9,-8.0),(-0.4,-7.7),(-0.1,-7.7),(-0.3,-8.2),(-1.1,-7.4),(-1.7,-7.4),(-0.5,-7.3),(-2.1,-7.4)]
N_PT1_S = [(-6.95,-8.5),(-6.9,-7.9),(-6.6,-6.8),(-6.2,-5.9),(-5.7,-5.2),(-5.2,-4.6),(-4.7,-4.0),(-4.1,-3.3),(-3.5,-2.9),(-3.2,-2.5),(-2.9,-2.2),(-2.6,-2.4),(-2.2,-2.5),(-3.3,-3.8),(-3.1,-4.3),(-3.3,-5.0),(-3.5,-5.6),(-2.3,-4.5),(-3.2,-6.2),(-3.0,-5.6),(-2.8,-6.3),(-2.6,-5.7),(-2.2,-5.8),(-1.7,-5.8),(-2.3,-6.8),(-1.9,-6.6),(-1.5,-6.7),(-1.1,-6.4),(-0.9,-7.0),(-0.7,-6.6),(-0.1,-6.2),(0.0,-6.9),(0.2,-7.0),(-0.1,-8.2),(-0.7,-8.3),(-1.3,-8.3),(-1.9,-8.6),(-2.5,-8.5),(-3.3,-8.6),(-3.4,-9.2),(-3.9,-9.3),(-4.3,-9.6),(-4.8,-9.9),(-5.3,-10.0),(-5.9,-9.9),(-6.4,-9.5),(-6.8,-9.1)]
N_DT_L = [(-3.7,6.1),(-3.2,6.1),(-2.7,6.0),(-2.3,5.9),(-3.6,5.5),(-3.1,5.5),(-2.6,5.4),(-2.1,5.5),(-5.5,4.6),(-5.0,4.5),(-4.5,4.5),(-4.0,4.7),(-3.5,4.9),(-3.0,4.9),(-5.3,3.9),(-4.8,3.9),(-4.2,3.9),(-3.7,4.1),(-3.2,4.2),(-4.6,3.2),(-4.0,3.2),(-3.4,3.3),(-3.6,2.8)]
N_DT_S = [(-4.6,5.9),(-4.2,6.1),(-4.3,5.6),(-6.0,4.4),(-5.9,4.9),(-5.7,5.2),(-5.3,5.1),(-4.9,5.1),(-5.5,3.5),(-5.1,3.0),(-4.7,2.6),(-4.4,2.5),(-3.4,2.3),(-3.1,2.2),(-2.9,3.2),(-2.7,3.8),(-2.8,4.4),(-2.3,4.7),(-2.0,4.9),(-1.8,5.6),(-1.6,5.2),(-2.0,6.1),(-2.9,2.8),(-3.1,2.6),(-2.3,3.7)]
N_E_S = [(-1.7,4.6),(-1.6,4.3),(-1.4,4.2),(-1.3,4.7),(-1.1,5.1),(-1.1,4.5),(-0.9,4.3),(-0.8,4.7),(-0.7,3.9),(-0.9,3.8),(-1.05,3.6),(-0.6,5.0),(-0.5,5.1),(-0.4,4.9),(-0.6,4.2),(-0.35,5.0),(-0.3,5.9),(-0.55,4.4),(-1.9,2.2)]
N_M_S = [(-3.3,2.2),(-3.1,2.2),(-3.2,1.9),(-3.0,1.8),(-3.1,1.5),(-3.3,1.5),(-3.2,1.1),(-3.3,0.9),(-3.0,0.9),(-2.7,0.2),(-2.6,-0.2),(-2.7,-1.4),(-2.4,-1.5),(-2.1,-1.5),(-1.8,-1.3),(-1.9,-1.0),(-1.8,-0.8),(-2.9,-2.0),(-2.7,-1.7),(-2.5,-2.0),(-2.3,-1.8),(-2.1,-1.9),(-1.8,-1.7),(-2.9,-1.9),(-2.5,-0.3),(-2.3,1.2),(0.2,-1.8),(0.4,-1.7),(0.5,-2.0),(0.6,-1.8),(0.7,-1.6),(0.3,-2.1),(0.5,-1.6),(0.75,-1.9)]
N_POD1_S = [(-5.2,-0.5),(-5.1,-0.8),(-5.3,-1.1),(-5.25,-1.5),(-5.1,-1.4),(-5.3,-1.8),(-5.1,-1.8),(-5.4,-2.3),(-5.2,-2.2),(-5.05,-2.0),(-5.2,-2.6),(-5.1,-2.9),(-5.4,-2.0),(-0.35,-6.0),(-0.45,-6.6),(-0.2,-6.5),(-0.6,-6.8),(1.8,-4.0)]
N_B_S = [(0.9,1.8),(1.2,1.8),(0.15,0.5),(4.1,0.6),(4.0,0.55),(3.5,0.6),(3.8,-0.1),(4.15,0.05),(2.3,-0.7),(2.3,-1.1),(-0.3,-1.8),(0.5,-1.4),(-1.4,-2.3),(-1.85,-1.1),(-1.1,-7.4),(-1.9,-6.6),(4.4,-1.2),(0.9,-2.9)]
N_FB_M = [(2.9,-4.7),(3.3,-4.8),(3.6,-4.7),(3.2,-5.2),(3.5,-5.1),(2.9,-5.1),(3.9,-4.7)]
N_FB_S = [(0.9,-0.2),(0.85,-0.35),(1.0,-0.4),(1.1,-0.1),(1.05,-0.7),(1.1,-0.8),(1.15,-3.7),(1.25,-3.8),(1.2,-4.1),(2.0,-4.5),(2.3,-4.6),(3.3,-3.7),(3.5,-3.9),(3.7,-4.0),(2.6,-4.2),(4.05,-4.6),(3.0,-5.4),(3.4,-5.5),(3.6,-5.4)]
N_MO_S = [(-0.2,0.65),(-0.2,0.5),(-0.15,0.4),(0.2,0.5),(0.6,0.6),(0.65,1.1),(2.6,-0.25),(2.8,-0.4),(2.85,-0.7),(3.0,-0.35),(3.15,-0.25),(3.3,-0.5),(3.6,-0.7)]
N_T_S = [(4.5,-1.2),(4.65,-1.25),(3.3,-1.85),(1.15,-1.7)]
N_POD2_L = [(3.6,-11.4),(4.0,-11.7),(4.4,-11.6),(4.8,-11.6),(3.9,-12.1),(4.3,-12.2),(4.6,-11.1),(4.7,-11.9),(3.2,-11.3)]
N_POD2_S = [(4.5,-10.3),(4.55,-10.6),(4.9,-10.9),(5.05,-11.3),(5.1,-11.9),(4.8,-12.4),(4.2,-12.6),(3.6,-12.3),(3.2,-11.8),(2.7,-11.2),(3.0,-11.1),(3.4,-11.1),(3.9,-11.1),(4.2,-11.0),(4.4,-10.9)]
N_EC2_M = [(7.9,6.5),(8.1,6.2),(7.9,6.0),(8.2,5.6)]
N_EC2_S = [(8.1,7.1),(8.0,6.9),(7.8,6.3),(8.4,5.4),(8.6,5.1),(8.8,4.9),(9.0,4.7),(8.3,5.2)]
N_EC1_L = [(10.6,3.9),(11.1,4.0),(11.5,3.9),(10.2,3.4),(10.7,3.4),(11.2,3.3),(11.6,3.4),(10.1,2.8),(10.6,2.8),(11.0,2.7),(9.9,4.0),(11.9,3.5)]
N_EC1_S = [(9.2,4.6),(9.5,4.4),(9.7,4.4),(10.1,4.4),(10.5,4.5),(10.9,5.0),(11.2,4.9),(11.6,4.7),(11.9,4.2),(12.2,3.6),(11.9,3.0),(11.5,2.8),(9.7,3.8),(9.6,3.4),(10.0,3.0),(9.6,2.7),(9.5,2.3),(9.5,2.0),(9.8,2.2),(10.3,2.3),(10.7,2.1),(9.1,6.0),(8.8,5.7)]
N_EC3_S = [(10.8,-7.3),(10.95,-7.4),(11.1,-7.5),(11.25,-7.6)]
N_CDI_L = [(-5.2,11.7),(-5.0,11.4),(-5.3,11.0),(-4.9,10.8),(-5.6,10.2),(-5.2,10.3),(-5.6,9.7),(-5.3,9.6)]
N_CDI_S = [(-5.35,12.4),(-5.1,12.2),(-4.8,11.9),(-4.7,11.3),(-4.6,10.8),(-6.0,10.4),(-6.0,9.8),(-5.7,9.2),(-5.3,9.1),(-5.0,9.3),(-4.9,10.0),(-4.6,9.9),(-4.4,10.4),(-4.6,10.1),(-4.5,9.6),(-4.1,10.0),(-4.0,10.2),(-4.2,9.5),(-3.8,9.8),(-3.6,10.2)]
N_CDP_L = [(-0.1,12.0),(0.3,11.7),(-0.3,11.4),(0.3,11.1),(-0.8,11.3),(-1.4,11.3),(-1.9,11.3),(-0.2,10.6),(0.4,10.5),(-0.7,10.7),(-1.3,10.6),(-1.8,10.7),(-0.3,10.0)]
N_CDP_S = [(-0.1,12.5),(0.4,12.3),(0.7,11.5),(0.7,10.8),(0.5,10.0),(0.0,9.6),(-0.5,9.5),(-0.9,9.9),(-1.2,10.0),(-1.6,10.0),(-2.1,9.9),(-2.3,10.3),(-2.6,11.0),(-2.8,10.6),(-3.3,10.5),(-3.5,10.2),(-3.1,10.0),(-2.0,9.4),(-1.8,9.0),(-1.5,8.9),(-1.2,8.5),(-1.3,9.2),(-0.8,8.8),(-0.7,8.2),(-0.65,7.7),(-0.5,7.2),(-0.45,6.9),(-0.55,7.45),(-2.1,9.0)]

# Injured kidney UMAP
I_PT1_L = [(-2.9,-2.9),(-3.5,-3.0),(-3.1,-3.5),(-3.7,-3.6),(-4.3,-3.9),(-4.8,-4.1),(-3.3,-4.1),(-4.0,-4.4),(-4.6,-4.6),(-5.2,-4.6),(-3.5,-4.7),(-5.6,-5.0),(-5.1,-5.2),(-4.5,-5.2),(-3.9,-5.2),(-2.4,-5.3),(-1.9,-5.3),(-1.3,-5.2),(-0.9,-5.4),(-5.9,-5.7),(-5.3,-5.8),(-4.7,-5.8),(-4.1,-5.8),(-3.5,-5.8),(-2.9,-5.8),(-2.3,-5.9),(-1.7,-5.9),(-1.1,-5.9),(-0.5,-5.8),(-6.1,-6.4),(-5.5,-6.4),(-4.9,-6.4),(-4.3,-6.4),(-3.7,-6.4),(-3.1,-6.4),(-2.5,-6.5),(-1.9,-6.5),(-1.3,-6.5),(-0.7,-6.4),(-0.1,-6.3),(-6.2,-7.0),(-5.6,-7.0),(-5.0,-7.0),(-4.4,-7.0),(-3.8,-7.0),(-3.2,-7.0),(-2.6,-7.1),(-2.0,-7.1),(-1.4,-7.1),(-0.8,-7.1),(-0.2,-7.0),(-6.3,-7.7),(-5.7,-7.7),(-5.1,-7.7),(-4.5,-7.7),(-3.9,-7.7),(-3.3,-7.7),(-2.7,-7.7),(-2.1,-7.7),(-1.5,-7.6),(-0.9,-7.6),(-0.3,-7.6),(-6.3,-8.3),(-5.7,-8.3),(-5.1,-8.3),(-4.5,-8.3),(-3.9,-8.3),(-3.3,-8.2),(-2.7,-8.2),(-5.9,-8.9),(-5.3,-8.9),(-4.7,-8.9),(-4.1,-8.7),(-5.4,-9.3),(-4.8,-9.2)]
I_PT1_S = [(-6.95,-8.5),(-6.9,-7.8),(-6.7,-7.0),(-6.6,-6.2),(-6.4,-5.4),(-5.9,-5.1),(-5.2,-4.3),(-4.6,-3.7),(-4.0,-3.3),(-3.6,-2.7),(-3.1,-2.3),(-2.8,-2.3),(-2.4,-2.8),(-2.5,-3.7),(-2.1,-4.5),(-1.5,-4.6),(-1.0,-4.9),(-0.6,-5.2),(-0.1,-5.6),(0.35,-6.1),(0.35,-6.5),(0.1,-7.1),(0.1,-7.7),(-0.9,-8.0),(-1.7,-8.1),(-2.3,-8.3),(-3.0,-8.6),(-3.6,-9.0),(-4.2,-9.4),(-4.8,-9.6),(-5.6,-9.6),(-6.3,-9.3),(-6.7,-8.9)]
I_PTB_S = [(-2.6,-2.0),(-2.2,-1.9),(-1.9,-2.0),(-1.6,-2.1),(-1.4,-2.1),(-2.3,-2.2),(-1.9,-2.3),(-2.6,-2.3)]
I_DT_L = [(-3.7,6.5),(-3.1,6.5),(-2.5,6.4),(-1.9,6.1),(-1.3,5.6),(-4.1,5.9),(-3.5,5.9),(-2.9,5.9),(-2.3,5.8),(-1.7,5.6),(-5.5,5.0),(-5.0,5.1),(-4.4,5.2),(-3.8,5.3),(-3.2,5.3),(-2.6,5.3),(-2.0,5.1),(-1.5,5.1),(-5.5,4.4),(-5.0,4.5),(-4.4,4.6),(-3.8,4.7),(-3.2,4.7),(-2.6,4.7),(-5.0,3.9),(-4.4,4.0),(-3.8,4.1),(-3.2,4.1),(-2.8,4.0),(-4.4,3.4),(-3.8,3.5),(-3.2,3.5),(-3.7,3.0)]
I_DT_S = [(-5.85,4.5),(-5.7,5.6),(-5.4,5.7),(-5.0,5.6),(-4.6,5.6),(-4.4,6.2),(-4.1,6.7),(-3.2,7.0),(-2.4,6.8),(-1.6,6.6),(-1.1,5.8),(-0.95,5.5),(-5.6,3.9),(-5.3,3.6),(-5.0,3.2),(-4.9,3.1),(-4.5,2.9),(-4.0,2.6),(-3.5,2.5),(-2.7,3.5)]
I_E_L = [(-0.6,5.2),(-0.9,4.7),(-0.5,4.6),(-1.4,4.4),(-1.0,4.2),(-0.5,4.1),(-1.8,4.1),(-2.2,4.0),(-1.4,3.8),(-1.0,3.6),(-1.8,3.5)]
I_E_S = [(-0.35,6.45),(-0.4,6.0),(-0.8,5.9),(-0.2,5.4),(-0.15,4.6),(-0.3,3.9),(-0.7,3.4),(-1.2,3.2),(-1.5,2.9),(-1.2,2.9),(-1.9,3.1),(-2.3,3.2),(-2.6,3.6),(-2.7,4.1),(-2.0,4.6),(-1.7,5.0),(-1.2,5.1),(-2.1,2.9),(-2.4,2.7),(-2.6,2.3),(-2.8,2.6),(-2.2,2.3)]
I_M_M = [(-3.3,2.5),(-2.9,2.6),(-3.1,2.0),(-2.7,2.0),(-2.9,1.5),(-2.6,1.4),(-2.7,0.9),(-2.7,0.5),(-2.6,-0.1),(-2.6,-0.7),(-2.7,-1.3),(-2.6,-1.8),(-2.55,-1.0),(-2.65,0.2)]
I_M_S = [(-3.6,2.6),(-2.4,2.5),(-2.2,2.0),(-2.4,1.6),(-2.2,1.3),(-2.3,0.7),(-2.4,0.3),(-2.9,0.3),(-2.35,-0.2),(-2.1,-0.6),(-2.3,-1.0),(-2.0,-1.3),(-2.2,-1.7),(-2.3,-2.1),(-1.9,-1.8),(-1.4,-1.2),(-1.7,-0.8)]
I_POD1_L = [(-5.2,-0.5),(-4.8,-0.5),(-4.7,-0.2),(-4.9,-0.9),(-4.45,-0.7),(-4.1,-1.05)]
I_POD1_S = [(-4.9,0.5),(-4.7,0.6),(-4.65,0.2),(-5.5,-0.4),(-5.4,-0.8),(-4.4,-0.6),(-4.2,-0.9),(-4.0,-1.1),(-3.8,-1.2),(-3.6,-1.4),(-5.1,-1.3),(-5.0,-1.5),(-5.0,-1.8),(-4.8,-1.6),(-5.2,-2.1),(-5.0,-2.1),(-5.4,-2.1),(-4.8,-2.4),(-4.6,-1.8),(-3.4,-1.6),(-3.2,-1.7),(-3.1,-2.0),(-2.9,-2.1),(-2.6,-2.2),(-2.4,-2.4),(-2.2,-2.3),(-1.8,-2.4),(-1.1,-2.4),(-1.2,-2.2),(-2.7,-2.4)]
I_B_S = [(1.7,2.8),(1.2,2.0),(1.0,2.0),(1.5,1.9),(1.15,1.6),(0.9,1.5),(1.1,1.3),(0.85,1.1),(0.2,2.5),(-1.7,1.7),(-1.2,1.7),(-1.9,2.0),(4.0,2.5),(4.7,1.3),(-5.2,-1.2),(-5.4,-2.1),(-2.4,-2.3),(-1.9,-1.2),(-1.2,-2.3),(-1.0,-1.9),(-2.5,-5.6),(1.0,0.5),(0.6,0.2),(0.9,0.1),(1.3,-0.4),(0.55,-0.1),(10.9,-6.9)]
I_PT2_L = [(0.0,0.5),(0.4,0.6),(0.6,0.8),(0.15,0.2),(-0.2,0.3)]
I_PT2_S = [(-0.8,0.2),(-0.5,0.1),(0.8,1.0),(0.7,1.9),(0.3,1.3)]
I_FB_L = [(3.1,-4.4),(3.5,-4.4),(2.8,-4.5),(3.3,-4.8)]
I_FB_M = [(0.8,-3.4),(1.1,-3.6),(1.4,-3.8),(1.7,-4.0),(2.0,-4.2),(2.4,-4.3),(3.8,-4.3),(1.25,-3.7),(1.55,-3.9),(1.85,-4.1),(2.2,-4.3),(2.6,-4.6)]
I_FB_S = [(0.2,-3.1),(0.5,-3.2),(0.7,-2.9),(1.2,-3.3),(1.6,-3.5),(2.1,-3.7),(2.6,-3.8),(3.2,-3.3),(3.4,-3.6),(4.1,-4.2),(3.9,-4.7),(3.5,-5.0),(3.0,-5.05),(2.5,-4.9),(2.0,-4.6),(1.6,-4.3)]
I_MO_M = [(2.5,-0.2),(2.7,-0.4),(2.4,-0.5),(2.7,0.1)]
I_MO_S = [(2.9,-0.1),(2.9,-0.5),(3.1,0.8),(2.8,0.6),(2.2,-0.6),(2.1,-0.9),(1.8,-1.1),(1.5,-1.2),(1.2,-1.3),(1.0,-1.4),(2.3,-0.8),(3.7,-0.4),(3.9,-0.5),(4.1,-0.6)]
I_T_S = [(0.3,-1.6),(0.5,-1.7),(0.7,-1.6),(0.9,-1.5),(1.1,-1.5),(3.5,-1.5),(3.7,-1.6),(3.9,-1.55),(4.1,-1.3),(4.3,-1.4),(4.4,-0.9),(4.6,-0.8),(4.8,-0.9),(4.7,-1.2),(4.9,-1.3),(5.1,-1.1),(5.3,-1.2),(5.5,-1.2),(4.9,-0.5),(5.15,-0.4),(5.4,-0.9),(5.0,-1.5),(4.7,-1.5)]
I_POD2_S = [(3.1,-10.8),(3.3,-10.8),(3.6,-10.8),(3.8,-10.8),(4.1,-10.7),(4.4,-10.6),(4.55,-10.1),(4.7,-10.4),(4.9,-10.6),(5.0,-10.9),(5.15,-11.2),(5.1,-11.5),(4.9,-11.7),(4.6,-11.9),(4.2,-12.0),(3.5,-11.7),(3.5,-11.3),(3.7,-11.2),(4.1,-11.2),(4.5,-11.2),(4.6,-11.5),(3.5,-10.6),(4.85,-11.2),(5.0,-11.4)]
I_EC2_L = [(8.0,7.0),(8.2,6.8),(7.9,6.6)]
I_EC2_S = [(8.0,7.5),(7.7,7.0),(8.5,6.5),(8.3,6.3),(8.1,6.0),(8.3,5.8),(8.75,5.4),(8.9,5.2),(9.1,5.0),(8.4,7.0)]
I_EC2B_S = [(8.8,7.1),(9.0,6.9),(9.15,6.6),(9.1,6.3)]
I_EC1_L = [(10.9,4.4),(11.3,4.2),(11.7,4.0),(10.6,3.7),(11.1,3.6),(11.6,3.5),(12.0,3.6),(10.3,3.1),(10.8,3.0),(11.3,3.0),(9.9,2.7),(10.3,2.6)]
I_EC1_M = [(8.3,1.95),(8.7,2.1),(9.1,2.2),(9.5,2.4),(9.5,4.4),(9.8,4.7),(10.2,4.2)]
I_EC1_S = [(9.45,4.9),(9.6,4.6),(9.9,5.0),(10.3,4.8),(10.5,4.6),(10.8,5.4),(10.7,5.0),(11.1,5.2),(11.5,4.8),(11.9,4.4),(12.1,3.9),(12.1,3.4),(11.7,3.1),(9.5,4.1),(9.5,3.7),(9.6,3.4),(9.9,3.4),(9.8,3.9),(9.5,2.3),(9.2,2.1),(8.9,2.2),(8.6,2.1),(8.3,1.9),(8.0,1.8),(8.1,2.2),(8.3,2.6),(8.4,2.3),(7.9,1.75),(9.6,1.95)]
I_EC3_S = [(9.95,-6.2),(10.1,-6.3),(10.3,-6.45),(10.5,-6.6),(10.7,-6.75),(10.9,-6.9),(11.1,-7.05),(11.3,-7.2),(10.2,-6.4),(10.4,-6.5),(10.6,-6.7),(10.8,-6.85),(11.0,-7.0),(11.2,-7.15)]
I_CDI_L = [(-5.1,12.0),(-5.1,11.5),(-5.5,11.0),(-5.1,10.9),(-5.4,10.4)]
I_CDI_S = [(-5.25,12.8),(-5.1,12.4),(-5.4,12.1),(-5.1,12.0),(-4.9,12.2),(-4.7,12.2),(-5.3,11.7),(-5.0,11.6),(-4.8,11.8),(-5.6,11.4),(-5.2,11.3),(-4.9,11.2),(-5.9,11.1),(-5.6,11.0),(-5.3,10.9),(-5.0,10.8),(-5.9,10.7),(-5.5,10.6),(-5.2,10.5),(-5.0,10.3),(-5.6,10.3),(-5.3,10.1),(-5.2,9.9),(-4.9,10.5),(-4.5,10.6),(-4.3,10.7),(-4.0,10.7),(-3.8,10.7),(-4.4,11.3),(-4.0,11.3),(-3.8,11.3),(-3.5,10.9)]
I_CDP_L = [(0.1,12.4),(0.3,11.8),(-0.2,11.6),(-0.8,11.6),(-1.4,11.6),(-2.0,11.4),(0.4,11.2),(-0.1,11.0),(-2.5,11.5),(-0.7,11.1),(-1.5,10.9),(-1.9,10.9),(-1.3,10.2),(-0.8,10.0),(-1.3,9.7)]
I_CDP_S = [(0.0,12.9),(0.4,12.8),(0.7,12.0),(0.7,11.3),(0.65,10.9),(0.35,10.6),(-0.0,10.5),(-0.4,10.4),(-0.7,10.9),(-2.9,11.4),(-2.8,11.7),(-2.5,11.9),(-2.1,11.9),(-1.6,12.0),(-1.0,12.0),(-0.6,12.1),(-2.5,11.0),(-2.6,10.7),(-2.2,10.9),(-1.8,10.3),(-1.6,10.6),(-1.8,10.0),(-1.6,9.7),(-1.9,9.5),(-1.4,9.3),(-1.2,9.5),(-0.9,10.2),(-1.0,9.7),(-0.7,9.5),(-0.4,9.9),(-0.7,9.0),(-0.6,8.5),(-2.1,9.4)]

CMAP = LinearSegmentedColormap.from_list('jun', ['#BEBEBE', '#0000FF'])
COLS = {'PT1':'#F8766D','DT':'#E38900','EC1':'#C99800','CDP':'#A3A500','B':'#7CAE00','FB':'#00B600','E':'#00BF7D','CDI':'#00C19A','M':'#00BFC4','T':'#00BCD8','POD1':'#00A9FF','POD2':'#8B93FF','EC2':'#C77CFF','MO':'#E76BF3','PT2':'#FF61CC','EC3':'#FF6A98'}

# draw order, (colour key, dot size px, points)
C_LAYERS = [('PT1',28,C_PT1_L),('PT1',6.5,C_PT1_S),('DT',28,C_DT_L),('DT',6.5,C_DT_S),('M',20,C_M_M),('M',6.5,C_M_S),('E',26,C_E_L),('E',6.5,C_E_S),
            ('POD1',18,C_POD1_M),('POD1',6.5,C_POD1_S),('B',26,C_B_L),('B',6.5,C_B_S),('B',14,C_OLIVE_M),('B',6.5,C_OLIVE_S),('FB',26,C_FB_L),('FB',17,C_FB_M),('FB',6.5,C_FB_S),
            ('PT2',24,C_PT2_L),('PT2',6.5,C_PT2_S),('MO',20,C_MO_M),('MO',6.5,C_MO_S),('T',22,C_T_L),('T',10,C_T_M),('T',6.5,C_T_S),('M',14,C_TM_M),('M',6.5,C_TM_S),
            ('POD2',22,C_POD2_L),('POD2',6.5,C_POD2_S),('EC2',24,C_EC2_L),('EC2',6.5,C_EC2_S),('EC1',6.5,C_EC2B_S),('EC1',28,C_EC1_L),('EC1',10,C_EC1_M),('EC1',6.5,C_EC1_S),('EC3',6.5,C_EC3_S),
            ('CDI',26,C_CDI_L),('CDI',6.5,C_CDI_S),('CDP',28,C_CDP_L),('CDP',6.5,C_CDP_S)]
N_LAYERS = [('PT1',26,N_PT1_L),('PT1',15,N_PT1_M),('PT1',8,N_PT1_S),('DT',24,N_DT_L),('DT',8,N_DT_S),('E',8,N_E_S),('M',8,N_M_S),('POD1',8,N_POD1_S),('B',7,N_B_S),
            ('FB',14,N_FB_M),('FB',8,N_FB_S),('MO',7,N_MO_S),('T',7,N_T_S),('POD2',20,N_POD2_L),('POD2',8,N_POD2_S),('EC2',13,N_EC2_M),('EC2',8,N_EC2_S),('EC1',24,N_EC1_L),('EC1',8,N_EC1_S),
            ('EC3',7,N_EC3_S),('CDI',22,N_CDI_L),('CDI',8,N_CDI_S),('CDP',24,N_CDP_L),('CDP',8,N_CDP_S)]
I_LAYERS = [('PT1',26,I_PT1_L),('PT1',8,I_PT1_S),('PT1',7,I_PTB_S),('DT',26,I_DT_L),('DT',8,I_DT_S),('M',15,I_M_M),('M',7,I_M_S),('E',22,I_E_L),('E',7,I_E_S),('POD1',18,I_POD1_L),('POD1',8,I_POD1_S),
            ('B',7,I_B_S),('PT2',20,I_PT2_L),('PT2',8,I_PT2_S),('FB',22,I_FB_L),('FB',14,I_FB_M),('FB',8,I_FB_S),('MO',14,I_MO_M),('MO',7,I_MO_S),('T',8,I_T_S),('POD2',8,I_POD2_S),
            ('EC2',24,I_EC2_L),('EC2',8,I_EC2_S),('EC1',7,I_EC2B_S),('EC1',26,I_EC1_L),('EC1',11,I_EC1_M),('EC1',8,I_EC1_S),('EC3',7,I_EC3_S),('CDI',13,I_CDI_L),('CDI',8,I_CDI_S),('CDP',17,I_CDP_L),('CDP',8,I_CDP_S)]

C_NAMES = ['CDI','CDP','DT','E','M','PT2','POD1','B','T','MO','FB','PT1','POD2','EC2','EC1','EC3']
C_NAME_POS = [(-5.0,10.4),(-0.45,10.5),(-3.05,4.85),(-0.73,4.07),(-2.45,0.72),(0.24,0.2),(-4.58,-1.09),(3.83,1.4),(5.37,-0.94),(2.6,-0.94),(3.54,-4.8),(-3.96,-6.7),(4.32,-11.5),(8.36,6.42),(11.3,3.4),(10.95,-6.9)]

LEGEND_LABELS = ['(PT1) Proximal tubule 1','(DT) Distal tubule','(EC1) Endothelial 1','(CDP) Collecting duct principal','(B) Immune_B','(FB) Fibroblast','(E) Epithelial','(CDI) Collecting duct intercalated',
                 '(M) Mesangial','(T) Immune_T','(POD1) Podocyte 1','(POD2) Podocyte 2','(EC2) Endothelial 2','(MO) Immune_Monocyte','(PT2) Proximal tubule 2','(EC3) Endothelial 3']
LEGEND_COLS = ['#F8766D','#E38900','#C99800','#A3A500','#7CAE00','#00B600','#00BF7D','#7CAE00','#00BFC4','#00BCD8','#00A9FF','#8B93FF','#C99800','#E76BF3','#FF61CC','#FF6A98']

fig = plt.figure(figsize=(W/100, H/100), dpi=100)
PX = Affine2D().scale(1/W, -1/H).translate(0, 1) + fig.transFigure


def dot(d):
    return (d/100*72)**2


def panel(l, r, t, b, xlim, ylim, xticks, yticks, fs):
    ax = fig.add_axes([l/W, 1-b/H, (r-l)/W, (b-t)/H])
    ax.set_xlim(xlim)
    ax.set_ylim(ylim)
    ax.set_xticks(xticks)
    ax.set_yticks(yticks)
    for s in ['top', 'right']:
        ax.spines[s].set_visible(False)
    for s in ['left', 'bottom']:
        ax.spines[s].set_linewidth(1.5)
    ax.tick_params(labelsize=fs, width=1.3, length=3, pad=4)
    return ax


def shift_xlabels(ax, shifts, left=False):
    for lab, dx in zip(ax.get_xticklabels(), shifts):
        lab.set_transform(lab.get_transform() + ScaledTranslation(dx/100, 0, fig.dpi_scale_trans))
        if left:
            lab.set_ha('left')


def labels(ax, xl, yl, fs=32):
    ax.set_xlabel(xl[0], fontsize=fs, va='center', ha='center')
    ax.xaxis.set_label_coords(xl[1], xl[2], transform=PX)
    ax.set_ylabel(yl[0], fontsize=fs, va='center', ha='center')
    ax.yaxis.set_label_coords(yl[1], yl[2], transform=PX)


def draw_layers(ax, layers, scale=1.0, colour=None):
    for key, d, pts in layers:
        p = np.array(pts)
        ax.scatter(p[:, 0], p[:, 1], s=dot(d*scale), c=colour or COLS[key], linewidths=0)


def draw_pts(ax, pts, col, d):
    p = np.array(pts)
    ax.scatter(p[:, 0], p[:, 1], s=dot(d), c=col, linewidths=0)


# Panel A
ax = panel(170, 879, 82, 613, (-490, 20885), (172, 5229), [0, 5000, 10000, 15000, 20000], [1000, 2000, 3000, 4000, 5000], 31)
draw_pts(ax, A_RED, '#F8766D', 6)
draw_pts(ax, A_MIX_RED, '#F8766D', 9)
draw_pts(ax, A_GREEN, '#7CAE00', 6)
draw_pts(ax, A_MIX_GREEN, '#7CAE00', 9)
draw_pts(ax, A_GREEN_LOW, '#7CAE00', 17)
draw_pts(ax, A_GREEN_CORE, '#7CAE00', 20)
draw_pts(ax, A_GREEN_EDGE, '#7CAE00', 8)
draw_pts(ax, A_TEAL_CORE, '#00BFC4', 24)
draw_pts(ax, A_TEAL_LOW, '#00BFC4', 18)
draw_pts(ax, A_TEAL, '#00BFC4', 6)
draw_pts(ax, A_PURPLE, '#C77CFF', 6)
draw_pts(ax, A_MIX_PURPLE, '#C77CFF', 8)
draw_pts(ax, A_PURPLE_CORE, '#C77CFF', 15)
shift_xlabels(ax, [-10, -10, -10, -10, -10], left=True)
labels(ax, ('nCount_RNA', 574, 705), ('nFeature_RNA', 32, 342))
handles = [Line2D([], [], ls='', marker='o', ms=17, mew=0, color=c) for c in ['#F8766D', '#7CAE00', '#C77CFF', '#00BFC4']]
leg = fig.legend(handles, ['Normal kidney', 'Injured kidney 1', 'Injured kidney 2', 'Injured kidney 3'], title='R²=0.97', fontsize=26,
                 title_fontsize=22, loc='upper left', bbox_to_anchor=(747, 311), bbox_transform=PX, frameon=False, borderpad=0, borderaxespad=0,
                 labelspacing=-0.12, handlelength=0.5, handletextpad=0.55)
leg._legend_box.align = 'left'
leg._legend_box.sep = 3.5

# Panel B, grey is every cell of the compiled map
ax = panel(1207, 1939, 81.5, 611, (-8.0, 14.0), (-14.77, 14.32), [-5, 0, 5, 10], [-10, -5, 0, 5, 10], 28)
draw_layers(ax, C_LAYERS, scale=0.74, colour='#BEBEBE')
p = np.concatenate([JUN_MID, JUN_MID2])
sc = ax.scatter(p[:, 0], p[:, 1], s=dot(5.5), c=np.full(len(p), 4.2), cmap=CMAP, vmin=0, vmax=6, linewidths=0)
p = np.array(JUN_HIGH)
ax.scatter(p[:, 0], p[:, 1], s=dot(5.5), c=np.full(len(p), 5.8), cmap=CMAP, vmin=0, vmax=6, linewidths=0)
shift_xlabels(ax, [-18, 2, 2, 12])
labels(ax, ('UMAP_1', 1588, 705), ('UMAP_2', 1130, 341))
fig.text(1588/W, 1-51/H, 'JUN', fontsize=32, style='italic', ha='center', va='center')
fig.text(1921/W, 1-345/H, 'Average\nexpression', fontsize=25, ha='center', va='center', linespacing=1.2)
cax = fig.add_axes([1899/W, 1-524/H, 24/W, 125/H])
cb = fig.colorbar(sc, cax=cax, ticks=[0, 1, 2, 3, 4, 5, 6])
cb.outline.set_visible(False)
cax.tick_params(labelsize=13, length=0, pad=3)

# Panel C
ax = panel(170.5, 1091, 820, 1628.5, (-7.7, 13.56), (-13.77, 13.68), [-5, 0, 5, 10], [-10, -5, 0, 5, 10], 30)
draw_layers(ax, C_LAYERS)
for name, (x, y) in zip(C_NAMES, C_NAME_POS):
    ax.text(x, y, name, fontsize=29, ha='center', va='center')
shift_xlabels(ax, [11, 0, 0, 11])
labels(ax, ('UMAP_1', 594, 1720), ('UMAP_2', 34, 1170))
fig.text(607/W, 1-787/H, 'Compiled', fontsize=32.5, ha='center', va='center')
handles = [Line2D([], [], ls='', marker='o', ms=17, mew=0, color=c) for c in LEGEND_COLS]
fig.legend(handles, LEGEND_LABELS, ncol=2, fontsize=24, loc='upper left', bbox_to_anchor=(143, 1778), bbox_transform=PX, frameon=False,
           borderpad=0, borderaxespad=0, labelspacing=0.22, handlelength=0.5, handletextpad=0.6, columnspacing=0.65)

# Normal kidney, its 10 tick sits above the regular spacing in the reference
ax = panel(1241.6, 1926.6, 810, 1378, (-8.07, 13.27), (-13.8, 13.84), [-5, 0, 5, 10], [-10, -5, 0, 5, 11.25], 26)
ax.set_yticklabels(['\u221210', '\u22125', '0', '5', '10'])
draw_layers(ax, N_LAYERS)
shift_xlabels(ax, [-11, 0, 0, 12])
labels(ax, ('UMAP_1', 1588, 1448), ('UMAP_2', 1134, 1087))
fig.text(1588/W, 1-788/H, 'Normal kidney', fontsize=32.5, ha='center', va='center')

# Injured kidney
ax = panel(1241.6, 1926.6, 1553.8, 2121.2, (-8.07, 13.27), (-13.79, 13.84), [-5, 0, 5, 10], [-10, -5, 0, 5, 10], 26)
draw_layers(ax, I_LAYERS)
shift_xlabels(ax, [-11, 0, 0, 12])
labels(ax, ('UMAP_1', 1588, 2202), ('UMAP_2', 1134, 1838))
fig.text(1588/W, 1-1523/H, 'Injured kidney', fontsize=32.5, ha='center', va='center')

for s, x, y in [('A', 35, 29), ('B', 1134, 29), ('C', 35, 787)]:
    fig.text(x/W, 1-y/H, s, fontsize=31, fontweight='bold', ha='center', va='center')

fig.savefig('out.png', dpi=100)
